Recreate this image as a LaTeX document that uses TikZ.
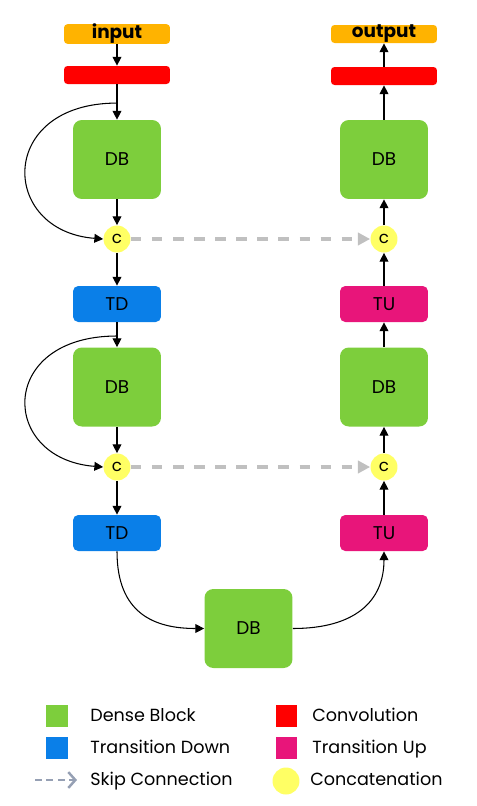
\documentclass[tikz,border=0pt]{standalone}
\usepackage{fontspec}
\setmainfont{Poppins}
\usepackage{tikz}
\usetikzlibrary{arrows.meta, positioning, calc}
\usepackage{xcolor}
\definecolor{denseGreen}{RGB}{125,206,60}
\definecolor{downBlue}{RGB}{10,127,232}
\definecolor{upPink}{RGB}{232,21,122}
\definecolor{convRed}{RGB}{255,0,0}
\definecolor{ioOrange}{RGB}{255,179,0}
\definecolor{catYellow}{RGB}{255,255,100}
\definecolor{skipGray}{RGB}{192,192,192}
\definecolor{legendGray}{RGB}{150,160,180}
\tikzstyle{iobox} = [fill=ioOrange, rounded corners=2pt, minimum width=2.12cm, minimum height=0.36cm, inner sep=0pt, font=\fontsize{10.5}{12}\selectfont\bfseries]
\tikzstyle{convbox} = [fill=convRed, rounded corners=2pt, minimum width=2.12cm, minimum height=0.36cm, inner sep=0pt]
\tikzstyle{dbbox} = [fill=denseGreen, rounded corners=5pt, minimum width=1.76cm, minimum height=1.58cm, inner sep=0pt, font=\fontsize{10.5}{13}\selectfont]
\tikzstyle{tdbox} = [fill=downBlue, rounded corners=3pt, minimum width=1.76cm, minimum height=0.72cm, inner sep=0pt, font=\fontsize{10.5}{13}\selectfont]
\tikzstyle{tubox} = [tdbox, fill=upPink]
\tikzstyle{catnode} = [circle, fill=catYellow, minimum size=0.54cm, inner sep=0pt, font=\fontsize{9.5}{10}\selectfont]
\tikzstyle{arrow} = [line width=0.6pt, -{Triangle[length=5pt,width=5pt]}, black]
\tikzstyle{skip} = [line width=2.4pt, dash pattern=on 6pt off 6pt, skipGray, -{Triangle[length=7pt,width=7pt]}]
\tikzstyle{legtext} = [anchor=west, inner sep=0pt, text height=1.5ex, text depth=0.45ex, font=\fontsize{10}{12}\selectfont]

\begin{document}
\begin{tikzpicture}[x=0.02cm, y=-0.02cm]
\useasboundingbox (0,0) rectangle (477,806);

% Down path
\node[iobox] (input) at (117,34) {input};
\node[convbox] (convin) at (117,75) {};
\node[dbbox] (dbA) at (117,159.5) {DB};
\node[catnode] (catA) at (117,239) {c};
\node[tdbox] (tdA) at (117,304) {TD};
\node[dbbox] (dbB) at (117,387) {DB};
\node[catnode] (catB) at (117,467) {c};
\node[tdbox] (tdB) at (117,533) {TD};

% Bottleneck
\node[dbbox] (dbC) at (248.5,628.5) {DB};

% Up path
\node[tubox] (tuB) at (384,533) {TU};
\node[catnode] (catD) at (384,467) {c};
\node[dbbox] (dbE) at (384,387) {DB};
\node[tubox] (tuA) at (384,304) {TU};
\node[catnode] (catC) at (384,239) {c};
\node[dbbox] (dbD) at (384,159.5) {DB};
\node[convbox] (convout) at (384,76) {};
\node[iobox] (output) at (384,34) {output};

\foreach \a/\b in {input/convin, convin/dbA, dbA/catA, catA/tdA, tdA/dbB, dbB/catB, catB/tdB,
                   tuB/catD, catD/dbE, dbE/tuA, tuA/catC, catC/dbD, dbD/convout, convout/output}
    \draw[arrow] (\a) -- (\b);

% Dense block shortcuts
\coordinate (splitA) at ($(convin.south)!0.53!(dbA.north)$);
\coordinate (splitB) at ($(tdA.south)!0.55!(dbB.north)$);
\draw[arrow] (splitA) .. controls +(-120,0) and +(-104,-8) .. (catA.west);
\draw[arrow] (splitB) .. controls +(-120,0) and +(-104,-8) .. (catB.west);

\draw[arrow] (tdB.south) .. controls +(0,62) and +(-50,0) .. (dbC.west);
\draw[arrow] (dbC.east) .. controls +(62,0) and +(0,50) .. (tuB.south);

% Skip connections
\draw[skip] (catA) -- (catC);
\draw[skip] (catB) -- (catD);

% Legend
\foreach \x/\y/\col/\tx/\txt in {57/716/denseGreen/90/Dense Block, 57/748/downBlue/90/Transition Down,
                                 286.5/716/convRed/312/Convolution, 286.5/748/upPink/312/Transition Up} {
    \node[fill=\col, minimum size=0.44cm, inner sep=0pt] (lg\txt) at (\x,\y) {};
    \node[legtext] at (\tx,\y) {\txt};
}
\coordinate (lgskipS) at (35,780);
\coordinate (lgskipE) at (77,780);
\draw[legendGray, line width=1.4pt, dash pattern=on 4pt off 2.5pt, -{Straight Barb[length=4pt,width=9pt]}] (lgskipS) -- (lgskipE);
\node[legtext] (lgskip) at (90,780) {Skip Connection};
\node[circle, fill=catYellow, minimum size=0.54cm, inner sep=0pt] (lgcat) at (286,781) {};
\node[legtext] (lgcattext) at (310,780) {Concatenation};
\end{tikzpicture}
\end{document}
